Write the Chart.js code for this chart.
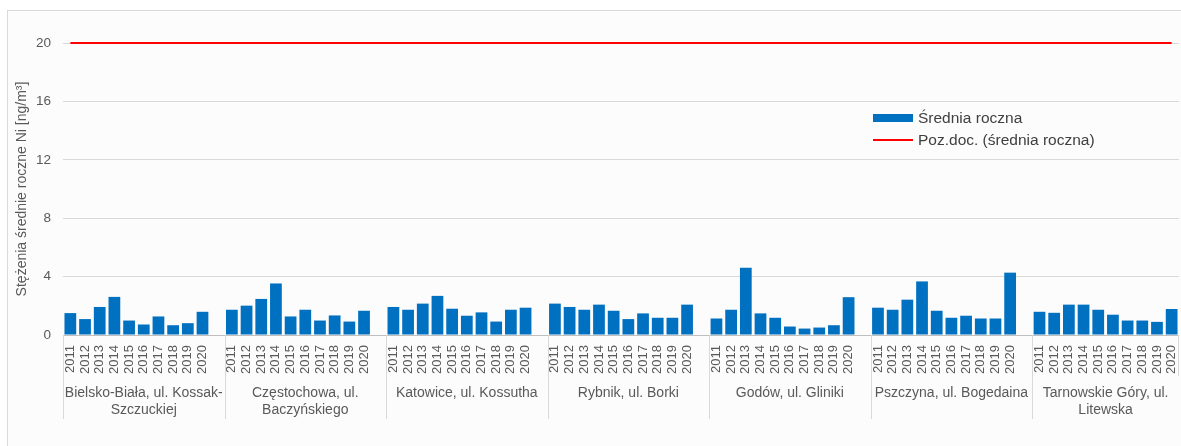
<!DOCTYPE html>
<html>
<head>
<meta charset="utf-8">
<script src="https://cdn.jsdelivr.net/npm/chart.js@4.4.1/dist/chart.umd.min.js"></script>
<style>
  body { margin: 0; background: #fff; }
  #frame { position: absolute; left: 7px; top: 10px; width: 1200px; height: 500px;
           border: 1px solid #d9d9d9; background: #fcfcfc; }
  #chart { position: absolute; left: 0; top: 0; }
</style>
</head>
<body>
<div id="frame"></div>
<canvas id="chart" width="1181" height="446"></canvas>
<script>
// Nickel annual means per station, 2011-2020
const years = ['2011', '2012', '2013', '2014', '2015', '2016', '2017', '2018', '2019', '2020'];
const stations = [
    ['Bielsko-Biała, ul. Kossak-', 'Szczuckiej'],
    ['Częstochowa, ul.', 'Baczyńskiego'],
    ['Katowice, ul. Kossutha'],
    ['Rybnik, ul. Borki'],
    ['Godów, ul. Gliniki'],
    ['Pszczyna, ul. Bogedaina'],
    ['Tarnowskie Góry, ul.', 'Litewska']
];
const bielsko = [1.50, 1.09, 1.92, 2.61, 0.99, 0.72, 1.27, 0.67, 0.81, 1.59];
const czestochowa = [1.73, 2.01, 2.47, 3.53, 1.27, 1.73, 0.99, 1.34, 0.92, 1.66];
const katowice = [1.92, 1.73, 2.15, 2.68, 1.80, 1.32, 1.55, 0.92, 1.73, 1.87];
const rybnik = [2.15, 1.92, 1.73, 2.08, 1.66, 1.09, 1.48, 1.18, 1.18, 2.08];
const godow = [1.13, 1.73, 4.60, 1.48, 1.18, 0.58, 0.44, 0.51, 0.67, 2.59];
const pszczyna = [1.87, 1.73, 2.42, 3.67, 1.66, 1.18, 1.32, 1.13, 1.13, 4.27];
const tarnowskie = [1.59, 1.52, 2.08, 2.08, 1.73, 1.39, 0.99, 0.99, 0.90, 1.78];
const limitValue = 20;
const yTicks = [0, 4, 8, 12, 16, 20];

const groups = [bielsko, czestochowa, katowice, rybnik, godow, pszczyna, tarnowskie];

// flatten, with one empty slot between stations (as in the original sheet)
const labels = [];
const values = [];
const groupStart = [];
groups.forEach((g, i) => {
    groupStart.push(labels.length);
    g.forEach((v, j) => { labels.push(years[j]); values.push(v); });
    if (i < groups.length - 1) { labels.push(''); values.push(null); }
});
const limitLine = labels.map(() => limitValue);
// centres of each station block, in slot units
const groupCenters = groupStart.map((s, i) => {
    const end = i < groupStart.length - 1 ? groupStart[i + 1] : labels.length;
    return (s - 0.5 + end - 0.5) / 2;
});

Chart.defaults.font.family = "'Liberation Sans', Arial, sans-serif";
Chart.defaults.color = '#595959';

// keep the plot area where the layout padding puts it
function noOverflow(scale) {
    scale.paddingLeft = 0;
    scale.paddingRight = 0;
    scale.paddingTop = 0;
    scale.paddingBottom = 0;
}

// separators under the category axis
const separators = {
    id: 'separators',
    afterDraw(chart) {
        const x = chart.scales.x;
        const c = chart.ctx;
        const slot = x.getPixelForValue(1) - x.getPixelForValue(0);
        c.save();
        c.strokeStyle = '#d9d9d9';
        c.lineWidth = 1;
        groupStart.forEach(s => {
            const px = Math.round(x.getPixelForValue(s) - slot / 2) + 0.5;
            c.beginPath();
            c.moveTo(px, chart.chartArea.bottom);
            c.lineTo(px, 419);
            c.stroke();
        });
        const end = Math.round(x.getPixelForValue(labels.length - 1) + slot / 2) - 0.5;
        c.beginPath();
        c.moveTo(end, chart.chartArea.bottom);
        c.lineTo(end, 376);
        c.stroke();
        c.restore();
    }
};

// legend inside the plot area
const innerLegend = {
    id: 'innerLegend',
    afterDraw(chart) {
        const c = chart.ctx;
        const ds = chart.data.datasets;
        c.save();
        c.font = "15.5px 'Liberation Sans', Arial, sans-serif";
        c.textBaseline = 'middle';
        c.fillStyle = ds[0].backgroundColor;
        c.fillRect(873, 114, 40, 8);
        c.fillStyle = '#404040';
        c.fillText(ds[0].label, 918, 119);
        c.strokeStyle = ds[1].borderColor;
        c.lineWidth = 2;
        c.beginPath();
        c.moveTo(873, 140);
        c.lineTo(913, 140);
        c.stroke();
        c.fillText(ds[1].label, 918, 141);
        c.restore();
    }
};

new Chart(document.getElementById('chart'), {
    data: {
        labels: labels,
        datasets: [{
            type: 'bar',
            label: 'Średnia roczna',
            data: values,
            backgroundColor: '#0070c0',
            borderWidth: 0,
            barPercentage: 0.8,
            categoryPercentage: 1,
            xAxisID: 'x',
            order: 2
        }, {
            type: 'line',
            label: 'Poz.doc. (średnia roczna)',
            data: limitLine,
            borderColor: '#ff0000',
            backgroundColor: '#ff0000',
            borderWidth: 2,
            pointRadius: 0,
            clip: false,
            xAxisID: 'x',
            order: 1
        }]
    },
    options: {
        responsive: false,
        animation: false,
        layout: {
            padding: { top: 43, right: 2, bottom: 26, left: 0 }
        },
        plugins: {
            legend: { display: false },
            tooltip: { enabled: false }
        },
        scales: {
            x: {
                type: 'category',
                position: 'bottom',
                weight: 0,
                offset: true,
                grid: { display: false, drawTicks: false },
                border: { display: false },
                ticks: {
                    autoSkip: false,
                    minRotation: 90,
                    maxRotation: 90,
                    padding: 10,
                    font: { size: 13 }
                },
                afterFit(scale) { scale.height = 45; noOverflow(scale); }
            },
            x2: {
                type: 'linear',
                position: 'bottom',
                weight: 1,
                min: -0.5,
                max: labels.length - 0.5,
                grid: { display: false, drawTicks: false },
                border: { display: false },
                afterBuildTicks(scale) {
                    scale.ticks = groupCenters.map(v => ({ value: v }));
                },
                ticks: {
                    autoSkip: false,
                    maxRotation: 0,
                    padding: 5,
                    font: { size: 14, lineHeight: 1.18 },
                    callback: (value, index) => stations[index]
                },
                afterFit(scale) { scale.height = 40; noOverflow(scale); }
            },
            y: {
                min: 0,
                max: 20,
                afterBuildTicks(scale) {
                    scale.ticks = yTicks.map(v => ({ value: v }));
                },
                grid: {
                    drawTicks: false,
                    color: ctx => ctx.tick && ctx.tick.value === 0 ? '#bfbfbf' : '#d9d9d9'
                },
                border: { display: false },
                ticks: { padding: 12, font: { size: 13.5 } },
                title: {
                    display: true,
                    text: 'Stężenia średnie roczne Ni [ng/m³]',
                    font: { size: 14 },
                    padding: { top: 14, bottom: 0 }
                },
                afterFit(scale) { scale.width = 63; noOverflow(scale); }
            }
        }
    },
    plugins: [separators, innerLegend]
});
</script>
</body>
</html>
